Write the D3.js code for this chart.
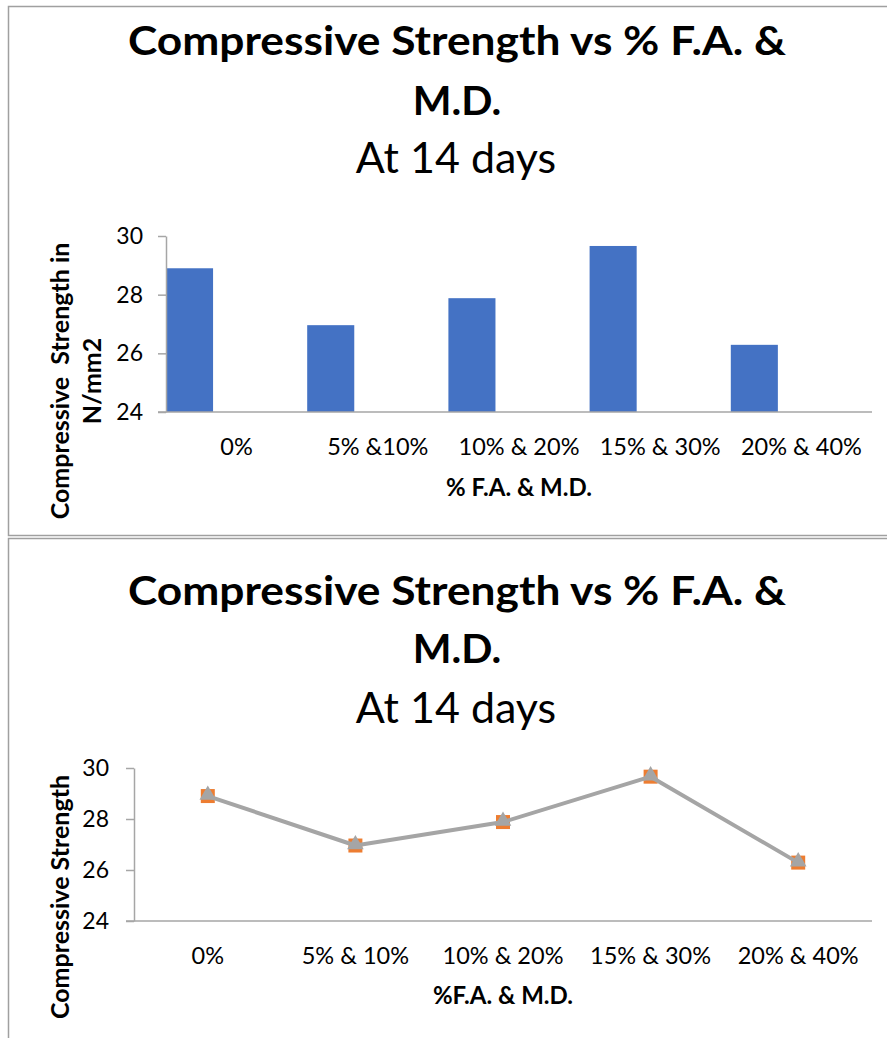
<!DOCTYPE html>
<html lang="en">
<head>
  <meta charset="UTF-8" />
  <title>Compressive Strength vs % F.A. & M.D.</title>
  <script src="https://d3js.org/d3.v7.min.js"></script>
  <style>
    body {
      margin: 0;
      background: #fff;
      font-family: Lato, "Open Sans", sans-serif;
    }
    svg { display: block; }
    .tick text { font-size: 23px; fill: #000; }
    .axis path, .axis line { stroke: #a6a6a6; }
  </style>
</head>
<body>
  <svg id="chart" width="887" height="1038"></svg>

  <script>
    // data
    const categoriesBar = ["0%", "5% &10%", "10% & 20%", "15% & 30%", "20% & 40%"];
    const categoriesLine = ["0%", "5% & 10%", "10% & 20%", "15% & 30%", "20% & 40%"];
    const strength14 = [28.9, 26.96, 27.88, 29.66, 26.29];
    const yTicks = [24, 26, 28, 30];
    const titleLines = ["Compressive Strength vs % F.A. &", "M.D."];
    const subTitle = "At 14 days";

    const svg = d3.select("#chart");
    const W = 887;

    svg.append("rect").attr("width", W).attr("height", 1038).attr("fill", "#fff");

    // panel frames
    svg.append("rect")
      .attr("x", 8.5).attr("y", 6.5).attr("width", 900).attr("height", 529)
      .attr("fill", "none").attr("stroke", "#a0a0a0").attr("stroke-width", 1.5);
    svg.append("rect")
      .attr("x", 8.5).attr("y", 538.5).attr("width", 900).attr("height", 520)
      .attr("fill", "none").attr("stroke", "#a0a0a0").attr("stroke-width", 1.5);

    function titles(g, ys) {
      g.append("text").attr("x", 457).attr("y", ys[0])
        .attr("text-anchor", "middle").attr("font-weight", "bold")
        .attr("font-size", 40).attr("textLength", 658).attr("lengthAdjust", "spacingAndGlyphs")
        .text(titleLines[0]);
      g.append("text").attr("x", 457).attr("y", ys[1])
        .attr("text-anchor", "middle").attr("font-weight", "bold")
        .attr("font-size", 41)
        .text(titleLines[1]);
      g.append("text").attr("x", 456).attr("y", ys[2])
        .attr("text-anchor", "middle")
        .attr("font-size", 43)
        .text(subTitle);
    }

    function yAxis(g, y, x0, pad) {
      const ax = g.append("g").attr("class", "axis")
        .attr("transform", `translate(${x0},0)`)
        .call(d3.axisLeft(y).tickValues(yTicks).tickFormat(d3.format("d"))
          .tickSize(8).tickSizeOuter(0).tickPadding(pad));
      ax.select(".domain").attr("stroke", "#a6a6a6").attr("stroke-width", 1.5);
      ax.selectAll(".tick line").attr("stroke-width", 1.5);
      ax.selectAll(".tick text").attr("font-family", "Lato, sans-serif");
      return ax;
    }

    // ---------- upper panel: bar chart ----------
    const gBar = svg.append("g");
    titles(gBar, [55, 115, 173]);

    const x1 = d3.scaleBand().domain(categoriesBar).range([166, 872]);
    const y1 = d3.scaleLinear().domain([24, 30]).range([412, 236]);

    gBar.selectAll("rect.bar")
      .data(strength14)
      .join("rect")
      .attr("class", "bar")
      .attr("x", (d, i) => x1(categoriesBar[i]))
      .attr("width", x1.bandwidth() / 3)
      .attr("y", d => y1(d))
      .attr("height", d => y1(24) - y1(d))
      .attr("fill", "#4472c4");

    gBar.append("line")
      .attr("x1", 158).attr("x2", 872).attr("y1", y1(24)).attr("y2", y1(24))
      .attr("stroke", "#a6a6a6").attr("stroke-width", 1.5);
    yAxis(gBar, y1, 166, 15);

    gBar.selectAll("text.xl")
      .data(categoriesBar)
      .join("text")
      .attr("class", "xl")
      .attr("x", d => x1(d) + x1.bandwidth() / 2)
      .attr("y", 455)
      .attr("text-anchor", "middle")
      .attr("font-size", 23.5)
      .text(d => d);

    gBar.append("text")
      .attr("x", 519).attr("y", 496)
      .attr("text-anchor", "middle").attr("font-weight", "bold").attr("font-size", 24)
      .text("% F.A. & M.D.");

    const yt1 = gBar.append("text")
      .attr("transform", "translate(0,381) rotate(-90)")
      .attr("text-anchor", "middle").attr("font-weight", "bold").attr("font-size", 25);
    yt1.append("tspan").attr("x", 0).attr("y", 69).attr("xml:space", "preserve").text("Compressive  Strength in");
    yt1.append("tspan").attr("x", 0).attr("y", 101).text("N/mm2");

    // ---------- lower panel: line chart ----------
    const gLine = svg.append("g");
    titles(gLine, [605, 663, 723]);

    const x2 = d3.scalePoint().domain(categoriesLine).range([134, 872]).padding(0.5);
    const y2 = d3.scaleLinear().domain([24, 30]).range([921, 768]);

    gLine.append("line")
      .attr("x1", 126).attr("x2", 872).attr("y1", y2(24)).attr("y2", y2(24))
      .attr("stroke", "#a6a6a6").attr("stroke-width", 1.5);
    yAxis(gLine, y2, 134, 17);

    const pts = strength14.map((v, i) => [x2(categoriesLine[i]), y2(v)]);

    gLine.selectAll("rect.sq")
      .data(pts)
      .join("rect")
      .attr("class", "sq")
      .attr("x", d => d[0] - 7).attr("y", d => d[1] - 7)
      .attr("width", 14).attr("height", 14)
      .attr("fill", "#ed7d31");

    gLine.append("path")
      .datum(pts)
      .attr("d", d3.line())
      .attr("fill", "none")
      .attr("stroke", "#a5a5a5")
      .attr("stroke-width", 4)
      .attr("stroke-linejoin", "round");

    gLine.selectAll("path.tri")
      .data(pts)
      .join("path")
      .attr("class", "tri")
      .attr("transform", d => `translate(${d[0]},${d[1] - 1})`)
      .attr("d", d3.symbol(d3.symbolTriangle, 120))
      .attr("fill", "#a5a5a5");

    gLine.selectAll("text.xl")
      .data(categoriesLine)
      .join("text")
      .attr("class", "xl")
      .attr("x", d => x2(d))
      .attr("y", 964)
      .attr("text-anchor", "middle")
      .attr("font-size", 23.5)
      .text(d => d);

    gLine.append("text")
      .attr("x", 503).attr("y", 1004)
      .attr("text-anchor", "middle").attr("font-weight", "bold").attr("font-size", 24)
      .text("%F.A. & M.D.");

    gLine.append("text")
      .attr("transform", "translate(69,897) rotate(-90)")
      .attr("text-anchor", "middle").attr("font-weight", "bold").attr("font-size", 25)
      .text("Compressive Strength");
  </script>
</body>
</html>
